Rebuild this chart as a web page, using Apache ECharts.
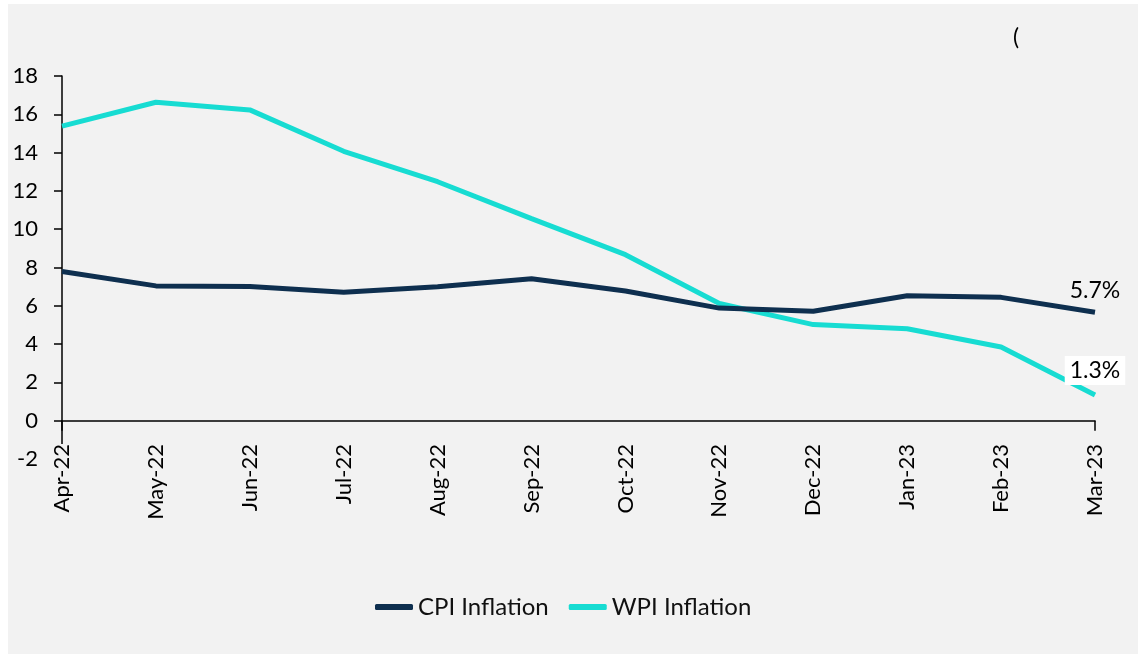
<!DOCTYPE html>
<html>
<head>
<meta charset="utf-8">
<script src="https://cdn.jsdelivr.net/npm/echarts@6/dist/echarts.min.js"></script>
<style>
  html, body { margin: 0; padding: 0; background: #ffffff; }
  #chart { position: absolute; left: 8px; top: 4px; width: 1130px; height: 650px; background: #f2f2f2; }
</style>
</head>
<body>
<div id="chart"></div>
<script>
// CPI vs WPI inflation, Apr-22 .. Mar-23
const months = ["Apr-22", "May-22", "Jun-22", "Jul-22", "Aug-22", "Sep-22", "Oct-22", "Nov-22", "Dec-22", "Jan-23", "Feb-23", "Mar-23"];
const cpiValues = [7.79, 7.04, 7.01, 6.71, 7.0, 7.41, 6.77, 5.88, 5.72, 6.52, 6.44, 5.66];
const wpiValues = [15.38, 16.63, 16.23, 14.07, 12.48, 10.55, 8.67, 6.12, 5.02, 4.8, 3.85, 1.34];

const fontFamily = "Lato, 'Open Sans', sans-serif";
const lastIdx = months.length - 1;

// put a label only on the last point
function withEndLabel(values, label) {
  return values.map((v, i) => {
    if (i !== lastIdx) return v;
    return { value: v, label: label };
  });
}

const chart = echarts.init(document.getElementById("chart"));
const option = {
  animation: false,
  textStyle: { fontFamily: fontFamily },
  title: {
    text: "(",
    left: 1000,
    top: 17,
    textStyle: { fontSize: 23, fontWeight: "normal", color: "#000", fontFamily: fontFamily }
  },
  grid: { left: 54, right: 43, top: 72, bottom: 195, containLabel: false },
  legend: {
    data: ["CPI Inflation", "WPI Inflation"],
    left: 362,
    top: 586,
    itemWidth: 38,
    itemHeight: 6,
    itemGap: 20,
    icon: "roundRect",
    textStyle: { fontSize: 24, color: "#111", fontFamily: fontFamily }
  },
  xAxis: {
    type: "category",
    data: months,
    boundaryGap: false,
    z: 3,
    axisLine: { onZero: true, lineStyle: { color: "#000", width: 1.5 } },
    axisTick: {
      show: true,
      length: 10,
      interval: (index) => index === 0 || index === lastIdx,
      lineStyle: { color: "#000", width: 1.5 }
    },
    axisLabel: {
      rotate: 90,
      margin: -15,
      interval: 0,
      fontSize: 22,
      color: "#000",
      backgroundColor: "#f2f2f2",
      fontFamily: fontFamily
    },
    splitLine: { show: false }
  },
  yAxis: {
    type: "value",
    min: -2,
    max: 18,
    interval: 2,
    axisLine: { show: true, lineStyle: { color: "#000", width: 1.5 } },
    axisTick: { show: true, length: 8, lineStyle: { color: "#000", width: 1.5 } },
    axisLabel: { fontSize: 22, color: "#000", margin: 24, fontFamily: fontFamily },
    splitLine: { show: false }
  },
  series: [
    {
      name: "CPI Inflation",
      type: "line",
      data: withEndLabel(cpiValues, {
        show: true,
        position: "top",
        distance: 10,
        formatter: "5.7%",
        fontSize: 23,
        color: "#000",
        fontFamily: fontFamily
      }),
      symbol: "circle",
      symbolSize: 0,
      showSymbol: true,
      lineStyle: { color: "#0e2f4f", width: 5 },
      itemStyle: { color: "#0e2f4f" },
      z: 3
    },
    {
      name: "WPI Inflation",
      type: "line",
      data: withEndLabel(wpiValues, {
        show: true,
        position: "top",
        distance: 10,
        formatter: "1.3%",
        fontSize: 23,
        color: "#000",
        backgroundColor: "#ffffff",
        padding: [3, 5, 3, 5],
        fontFamily: fontFamily
      }),
      symbol: "circle",
      symbolSize: 0,
      showSymbol: true,
      lineStyle: { color: "#17dcd2", width: 5 },
      itemStyle: { color: "#17dcd2" },
      z: 2
    }
  ]
};
chart.setOption(option);
</script>
</body>
</html>
